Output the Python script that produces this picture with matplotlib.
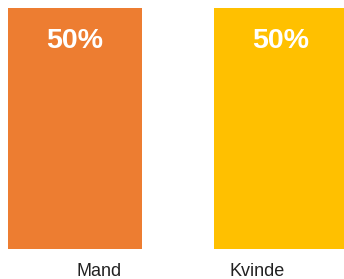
import matplotlib
matplotlib.use("Agg")
import matplotlib.pyplot as plt

categories = ["Mand", "Kvinde"]
values = [0.50, 0.50]
colors = ["#ED7D31", "#FFC000"]

plt.rcParams["font.family"] = ["Liberation Sans", "DejaVu Sans"]

fig = plt.figure(figsize=(3.44, 2.79), dpi=100)
ax = fig.add_axes([0, 30 / 279, 1, 241 / 279])

x = list(range(len(categories)))
bars = ax.bar(x, values, width=0.65, color=colors)

for b, v in zip(bars, values):
    ax.annotate(f"{v:.0%}", (b.get_x() + b.get_width() / 2, b.get_height()),
                xytext=(0, -33), textcoords="offset pixels",
                ha="center", va="center", color="white",
                fontsize=20.5, fontweight="bold")

# category labels sit a bit toward the middle
offs = [0.117, -0.117]
for i, (c, o) in enumerate(zip(categories, offs)):
    ax.annotate(c, (i + o, 0), xytext=(0, -22), textcoords="offset pixels",
                ha="center", va="center", fontsize=13, color="#222222",
                annotation_clip=False)

ax.set_xlim(-0.364, 1.306)
ax.set_ylim(0, 0.5)
ax.axis("off")

fig.savefig("out.png", dpi=100)
